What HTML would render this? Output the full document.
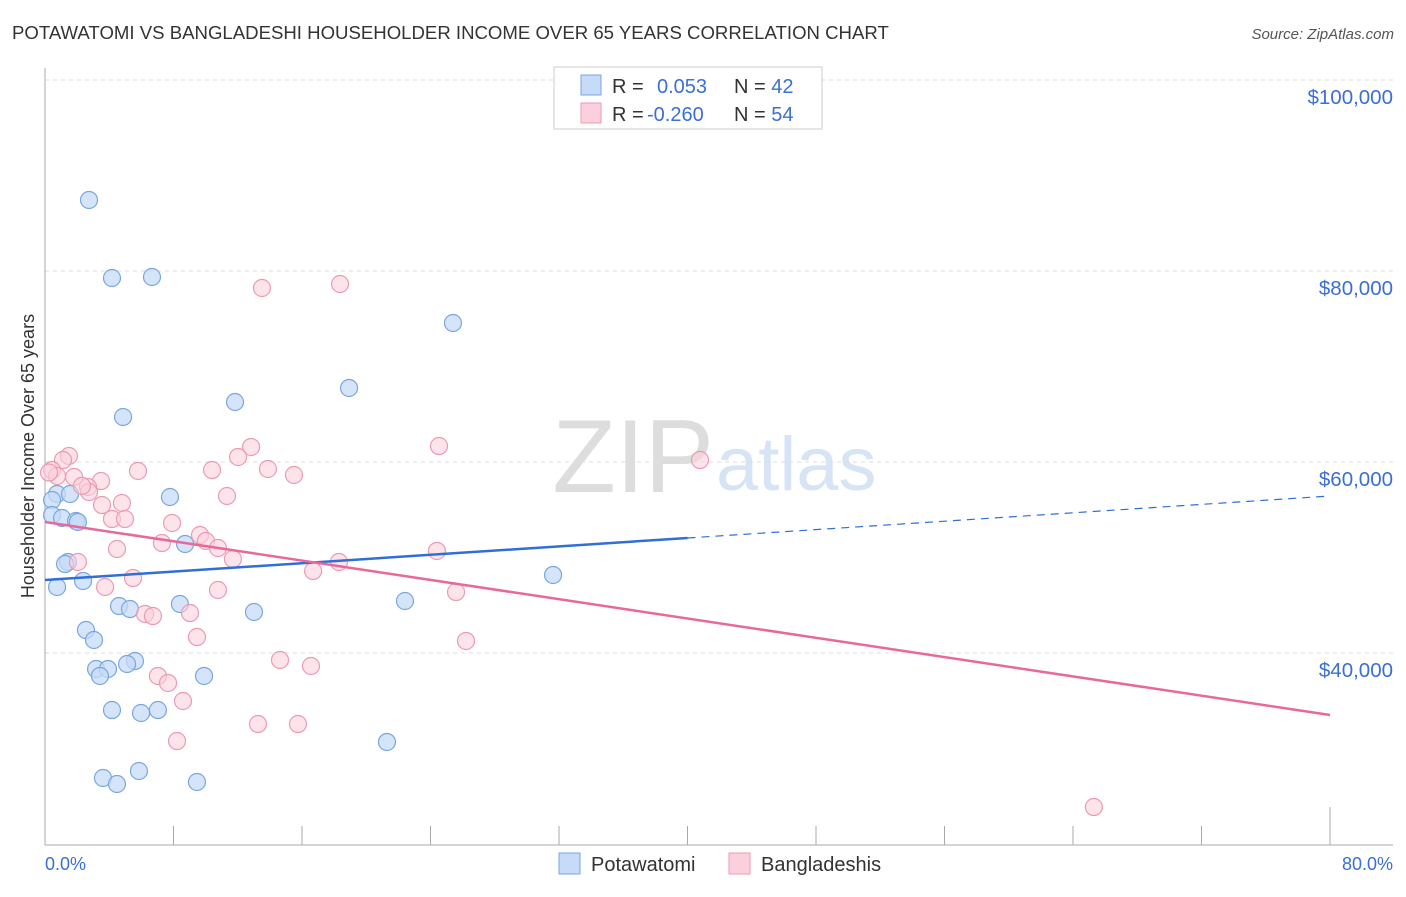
<!DOCTYPE html>
<html><head><meta charset="utf-8"><style>
body{margin:0;background:#fff;font-family:"Liberation Sans",sans-serif}
svg text{font-family:"Liberation Sans",sans-serif}
</style></head><body>
<svg id="c" width="1406" height="892" xmlns="http://www.w3.org/2000/svg">
<text x="12" y="39" font-size="18.6" fill="#333">POTAWATOMI VS BANGLADESHI HOUSEHOLDER INCOME OVER 65 YEARS CORRELATION CHART</text>
<text x="1394" y="39" font-size="15" fill="#555" text-anchor="end" font-style="italic">Source: ZipAtlas.com</text>
<text x="714" y="492" font-size="104" fill="#ddd" text-anchor="end" font-family="Liberation Serif">ZIP</text>
<text x="716" y="490" font-size="76" fill="#d6e4f5">atlas</text>
<g id="grid"></g><g id="axes"></g><g id="pts"></g><g id="trend"></g>
<text transform="translate(34,456) rotate(-90)" font-size="18" fill="#333" text-anchor="middle">Householder Income Over 65 years</text>
<text x="45" y="870" font-size="18" fill="#3b6fd4">0.0%</text>
<text x="1393" y="870" font-size="18" fill="#3b6fd4" text-anchor="end">80.0%</text>
<g>
<rect x="554" y="67" width="268" height="62" fill="#fff" stroke="#ccc"/>
<rect x="581" y="75" width="20" height="20" fill="#c5dbf7" stroke="#7aa6e0"/>
<rect x="581" y="103" width="20" height="20" fill="#fbd0dc" stroke="#ec9ab2"/>
<text x="612" y="93" font-size="20" fill="#333">R = <tspan fill="#3b6fd4" x="657">0.053</tspan><tspan x="734">N = </tspan><tspan fill="#3b6fd4">42</tspan></text>
<text x="612" y="121" font-size="20" fill="#333">R = <tspan fill="#3b6fd4" x="647">-0.260</tspan><tspan x="734">N = </tspan><tspan fill="#3b6fd4">54</tspan></text>
</g>
<g>
<rect x="559" y="853" width="21" height="21" fill="#c5dbf7" stroke="#7aa6e0"/>
<text x="591" y="871" font-size="20" fill="#333">Potawatomi</text>
<rect x="729" y="853" width="21" height="21" fill="#fbd0dc" stroke="#ec9ab2"/>
<text x="761" y="871" font-size="20" fill="#333">Bangladeshis</text>
</g>
</svg>
<script>
const yTicks=[40000,60000,80000,100000];
const yTickLabels=["$40,000","$60,000","$80,000","$100,000"];
const blueX=[2.74,4.17,6.66,25.4,18.93,11.83,4.86,7.78,0.75,0.44,1.56,0.44,1.06,1.93,2.05,8.72,1.43,1.25,31.63,2.37,0.75,22.41,8.4,4.61,5.29,13.01,2.55,3.05,3.18,3.92,3.42,5.6,5.11,9.9,4.17,5.98,7.03,21.29,3.61,4.48,5.85,9.46];
const blueY=[87435,79267,79372,74555,67749,66283,64712,56335,56649,56021,56649,54450,54136,53822,53717,51414,49529,49319,48168,47539,46911,45445,45131,44921,44607,44293,42408,41361,38325,38325,37592,39162,38848,37592,34031,33717,34031,30681,26911,26283,27644,26492];
const pinkX=[18.37,13.51,24.53,40.78,12.83,12.02,1.49,1.12,0.44,0.75,5.79,10.4,13.88,15.5,1.81,3.49,2.68,2.74,11.33,4.79,3.55,4.17,4.98,7.91,9.65,10.02,7.28,10.77,4.48,24.4,11.7,18.3,2.05,16.69,5.48,3.74,10.77,25.59,6.23,6.72,9.03,9.46,26.21,14.63,16.56,7.03,7.66,8.59,13.26,15.75,8.22,65.3,0.25,2.3];
const pinkY=[78639,78220,61675,60209,61571,60524,60628,60209,59162,58534,59058,59162,59267,58639,58429,58010,57382,56859,56440,55707,55497,54031,54031,53613,52356,51728,51518,50995,50890,50681,49843,49529,49529,48586,47853,46911,46597,46387,44084,43874,44188,41675,41257,39267,38639,37592,36859,34974,32565,32565,30785,23874,58900,57500];
const blueTrend=[47644,56440];
const pinkTrend=[53717,33508];
const NS="http://www.w3.org/2000/svg";
const X=v=>45+v/80*1285, Y=v=>80+(100000-v)/20000*191;
function mk(p,t,a){const e=document.createElementNS(NS,t);for(const k in a)e.setAttribute(k,a[k]);document.getElementById(p).appendChild(e);return e;}
yTicks.forEach((v,i)=>{
 const l=mk('grid','line',{x1:45,x2:1393,y1:Y(v),y2:Y(v),stroke:'#ddd','stroke-dasharray':'4,4'});
 
 
});
yTicks.forEach((v,i)=>{
 const t=mk('grid','text',{x:1393,y:Y(v)+24,'font-size':20.5,fill:'#3b6fd4','text-anchor':'end'});
 t.textContent=yTickLabels[i];
 
 
});
let a=mk('axes','line',{x1:45,x2:45,y1:68,y2:845,stroke:'#aaa'});


a=mk('axes','line',{x1:45,x2:1393,y1:845,y2:845,stroke:'#aaa'});


for(let i=1;i<=10;i++){
 const t=mk('axes','line',{x1:X(i*8),x2:X(i*8),y1:i==10?807:826,y2:845,stroke:'#aaa'});
 
 
}
blueX.forEach((x,i)=>{
 const c=mk('pts','circle',{cx:X(x),cy:Y(blueY[i]),r:8.5,fill:'#c5dbf7','fill-opacity':0.75,stroke:'#7aa6e0','stroke-width':1.2});
 
 
});
pinkX.forEach((x,i)=>{
 const c=mk('pts','circle',{cx:X(x),cy:Y(pinkY[i]),r:8.5,fill:'#fbd0dc','fill-opacity':0.6,stroke:'#ec9ab2','stroke-width':1.2});
 
 
});
const bm=blueTrend[0]+(blueTrend[1]-blueTrend[0])*0.5;
let t=mk('trend','line',{x1:X(0),y1:Y(blueTrend[0]),x2:X(40),y2:Y(bm),stroke:'#2f6fd6','stroke-width':2.5});


t=mk('trend','line',{x1:X(40),y1:Y(bm),x2:X(80),y2:Y(blueTrend[1]),stroke:'#2f6fd6','stroke-width':1.2,'stroke-dasharray':'8,6'});


t=mk('trend','line',{x1:X(0),y1:Y(pinkTrend[0]),x2:X(80),y2:Y(pinkTrend[1]),stroke:'#e8689a','stroke-width':2.5});


</script>
</body></html>
